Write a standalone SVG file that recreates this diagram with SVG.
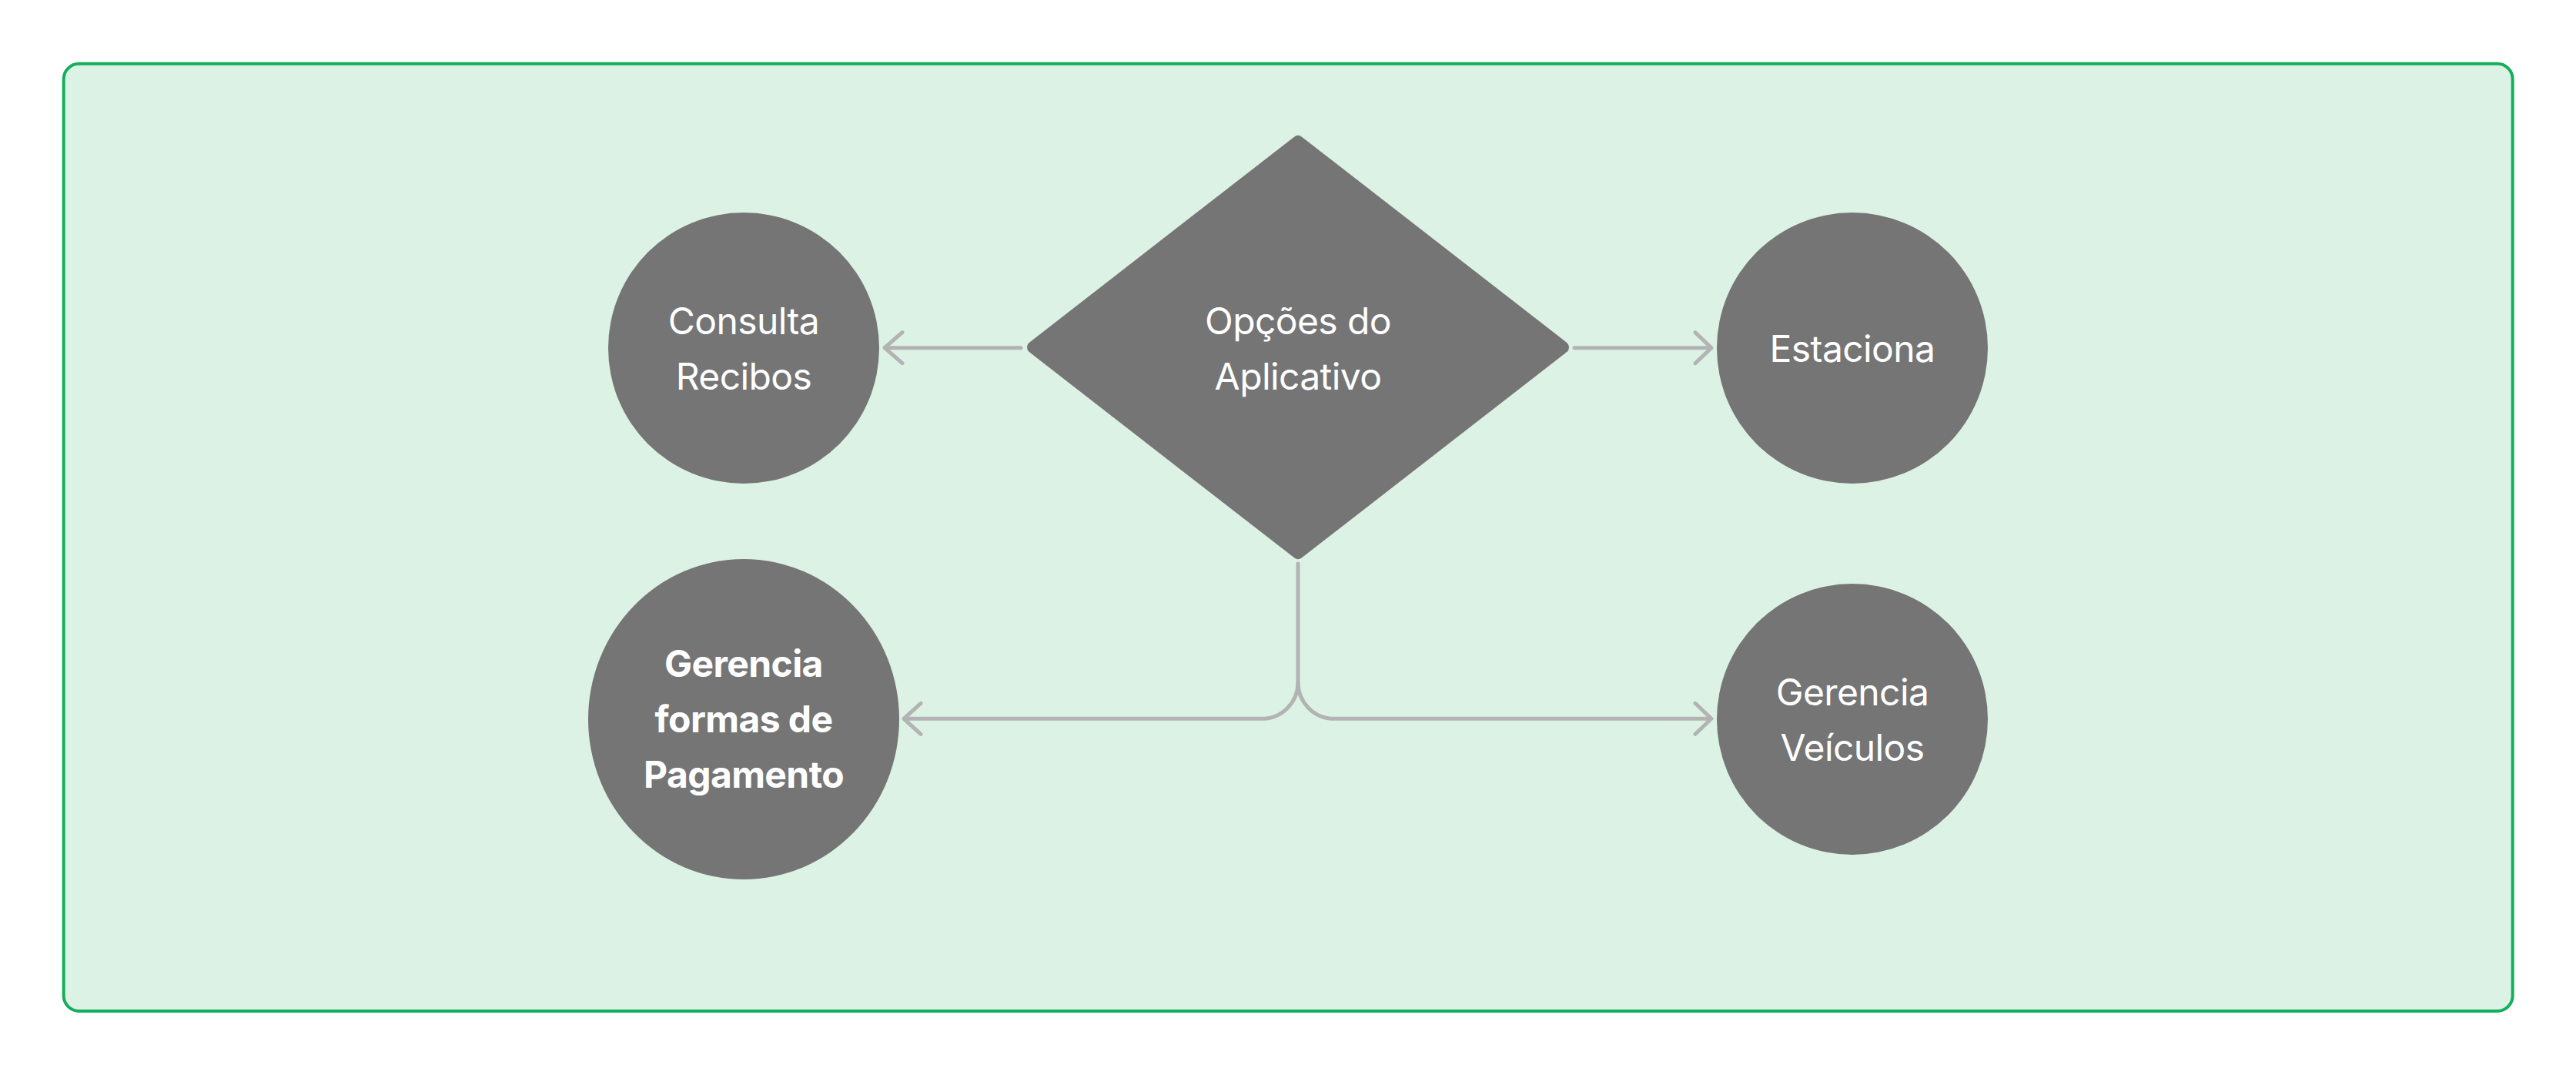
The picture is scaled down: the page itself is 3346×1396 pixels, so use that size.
<svg xmlns="http://www.w3.org/2000/svg" width="3346" height="1396" viewBox="0 0 3346 1396">
<style>
.node{fill:#757575}
.lbl{font-family:Inter,"Liberation Sans",sans-serif;font-size:48px;fill:#ffffff;text-anchor:middle;letter-spacing:-0.6px}
.bold{font-weight:700}
.con{fill:none;stroke:#b3b3b3;stroke-width:5;stroke-linecap:round;stroke-linejoin:round}
</style>
<rect width="3346" height="1396" fill="#ffffff"/>
<g id="container">
<rect x="82.7" y="82.7" width="3181" height="1230.3" rx="20" ry="20" fill="#dcf2e5" stroke="#14ae5c" stroke-width="4"/>
</g>
<g id="connectors">
<path class="con" d="M1326 451.7 H1150 M1172 431.7 L1149 451.7 L1172 471.7"/>
<path class="con" d="M2045 451.7 H2222 M2202 431.7 L2223 451.7 L2202 471.7"/>
<path class="con" d="M1686 732 V886 A47 47 0 0 0 1733 933.3 H2221 M2202 913.3 L2223 933.3 L2202 953.3"/>
<path class="con" d="M1686 886 A47 47 0 0 1 1639 933.3 H1175 M1196 913.3 L1174 933.3 L1196 953.3"/>
</g>
<g id="opcoes">
<polygon class="node" points="1686,184 2030,451 1686,718 1342,451" stroke="#757575" stroke-width="16" stroke-linejoin="round"/>
<text class="lbl" x="1686" y="434">Opções do</text>
<text class="lbl" x="1686" y="506">Aplicativo</text>
</g>
<g id="consulta">
<circle class="node" cx="966" cy="452" r="176"/>
<text class="lbl" x="966" y="434">Consulta</text>
<text class="lbl" x="966" y="506">Recibos</text>
</g>
<g id="estaciona">
<circle class="node" cx="2406" cy="452" r="176"/>
<text class="lbl" x="2406" y="470">Estaciona</text>
</g>
<g id="pagamento">
<ellipse class="node" cx="966" cy="934" rx="202" ry="208"/>
<text class="lbl bold" x="966" y="879">Gerencia</text>
<text class="lbl bold" x="966" y="951">formas de</text>
<text class="lbl bold" x="966" y="1023">Pagamento</text>
</g>
<g id="veiculos">
<circle class="node" cx="2406" cy="934" r="176"/>
<text class="lbl" x="2406" y="916">Gerencia</text>
<text class="lbl" x="2406" y="988">Veículos</text>
</g>
</svg>
